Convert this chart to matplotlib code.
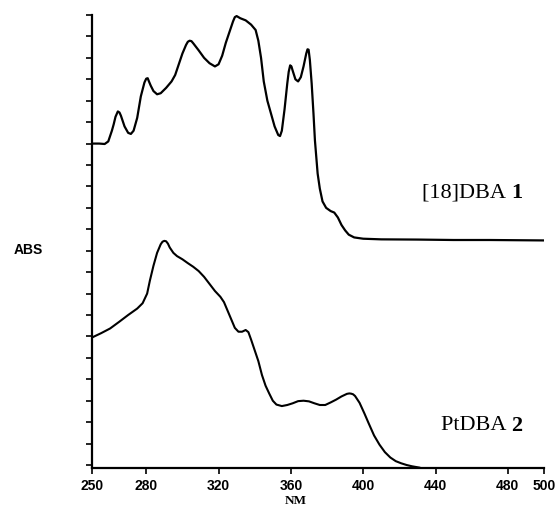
import numpy as np
import matplotlib as mpl
mpl.use('Agg')
import matplotlib.pyplot as plt


# upper trace: [18]DBA 1 (wavelength in nm, absorbance in tick units)
dba_nm = [250, 254, 257, 259, 261, 262, 263, 264.3, 265.2, 266, 268, 270, 271.5, 273,
          275, 277, 279, 280, 280.8, 281.5, 282.5, 284, 286, 288, 291, 294, 296, 298,
          300, 302, 303, 304, 305, 306, 309, 312, 315, 318, 320, 322, 324, 326, 328,
          329, 330, 331, 332, 335, 338, 340.5, 342, 343.5, 345, 347, 349, 351, 353,
          354, 355, 356.5, 358, 358.8, 359.6, 360.3, 361, 362.5, 364, 365.5, 367,
          368.5, 369.2, 369.8, 370.5, 371.5, 372.5, 373.3, 374.8, 376, 377.5, 379.5,
          382, 384, 386, 388, 390, 392, 395, 400, 410, 430, 450, 470, 500]
dba_abs = [15.0, 15.0, 14.98, 15.1, 15.6, 15.9, 16.25, 16.5, 16.45, 16.3, 15.8, 15.5,
           15.45, 15.6, 16.2, 17.2, 17.85, 18.03, 18.05, 17.9, 17.7, 17.45, 17.3,
           17.35, 17.6, 17.9, 18.2, 18.7, 19.2, 19.6, 19.75, 19.8, 19.78, 19.68, 19.35,
           19.0, 18.75, 18.6, 18.7, 19.1, 19.7, 20.2, 20.7, 20.9, 20.95, 20.9, 20.85,
           20.75, 20.55, 20.3, 19.8, 19.0, 17.9, 17.0, 16.4, 15.8, 15.4, 15.35, 15.6,
           16.6, 17.8, 18.35, 18.65, 18.6, 18.4, 18.0, 17.9, 18.1, 18.6, 19.2, 19.4,
           19.38, 18.9, 17.8, 16.4, 15.15, 13.6, 12.9, 12.3, 12.0, 11.85, 11.78, 11.55,
           11.2, 10.95, 10.75, 10.62, 10.56, 10.53, 10.52, 10.5, 10.5, 10.48]

# lower trace: PtDBA 2
pt_nm = [250, 255, 260, 265, 270, 275, 278, 280.5, 282, 284, 286, 288, 289, 290, 291,
         292, 293, 295, 297, 300, 303, 306, 309, 312, 315, 318, 321, 323, 325, 327, 329,
         331, 333, 335, 336.5, 338, 340, 342, 344, 346, 348, 350, 352, 355, 358, 361,
         364, 367, 370, 373, 376, 379, 382, 385, 388, 391, 392.3, 393.3, 394.4, 395.5,
         398, 400.7, 403, 406, 409, 412, 415, 418, 421, 424, 427, 431]
pt_abs = [5.95, 6.15, 6.37, 6.68, 7.0, 7.3, 7.55, 8.0, 8.6, 9.3, 9.9, 10.3, 10.42,
          10.46, 10.44, 10.33, 10.15, 9.9, 9.75, 9.6, 9.42, 9.25, 9.05, 8.78, 8.45,
          8.12, 7.85, 7.6, 7.2, 6.8, 6.4, 6.22, 6.22, 6.3, 6.2, 5.85, 5.35, 4.85, 4.2,
          3.7, 3.34, 3.0, 2.82, 2.75, 2.8, 2.88, 2.98, 3.0, 2.97, 2.88, 2.8, 2.8, 2.92,
          3.05, 3.2, 3.32, 3.34, 3.33, 3.3, 3.22, 2.9, 2.4, 1.95, 1.38, 0.95, 0.6, 0.35,
          0.18, 0.08, 0.0, -0.06, -0.12]

xticks = [250, 280, 320, 360, 400, 440, 480, 500]
yticks = list(range(22))

labels = ['[18]DBA ', 'PtDBA ']
numbers = ['1', '2']


fig = plt.figure(figsize=(5.58, 5.07), dpi=100)
ax = fig.add_axes([92/558, 39/507, 452/558, 453/507])

ax.plot(dba_nm, dba_abs, color='black', lw=1.6, solid_joinstyle='round')
ax.plot(pt_nm, pt_abs, color='black', lw=1.5, solid_joinstyle='round')

ax.set_xlim(250, 500)
ax.set_ylim(-0.14, 21)

# only left and bottom spines:
ax.spines['top'].set_visible(False)
ax.spines['right'].set_visible(False)
for s in ('left', 'bottom'):
    ax.spines[s].set_linewidth(1.6)
ax.set_xticks(xticks)
ax.set_yticks(yticks)
ax.set_yticklabels([])
ax.tick_params(direction='out', length=4.5, width=1.2)
for t in ax.get_xticklabels():
    t.set_fontfamily('Liberation Sans')
    t.set_fontweight('bold')
    t.set_fontsize(10)

fig.text(28/558, 1 - 250/507, 'ABS', ha='center', va='center',
         fontfamily='Liberation Sans', fontweight='bold', fontsize=10)
fig.text(296/558, 1 - 501/507, 'NM', ha='center', va='center',
         fontfamily='Liberation Serif', fontweight='bold', fontsize=9.5)

# trace labels, right-aligned with a bold compound number
for name, num, ypx in zip(labels, numbers, [193, 426]):
    t = fig.text(522/558, 1 - ypx/507, num, ha='right', va='center',
                 fontfamily='Liberation Serif', fontweight='bold', fontsize=16)
    fig.canvas.draw()
    bb = t.get_window_extent()
    fig.text(bb.x0/fig.bbox.width, 1 - ypx/507, name, ha='right', va='center',
             fontfamily='Liberation Serif', fontsize=16)

fig.savefig('out.png', dpi=100)
